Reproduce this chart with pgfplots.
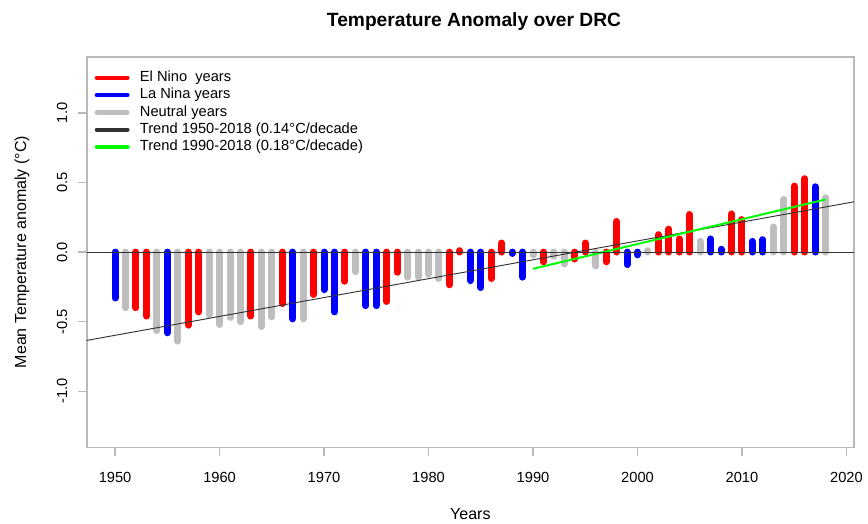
\documentclass[border=0pt]{standalone}
\usepackage{pgfplots}
\pgfplotsset{compat=1.18}
\usepackage{fontspec}
\setmainfont{Liberation Sans}
\definecolor{ngray}{RGB}{190,190,190}
\definecolor{framegray}{RGB}{185,185,185}
\definecolor{rgreen}{RGB}{0,255,0}
\begin{document}
\begin{tikzpicture}
\useasboundingbox (0pt,0pt) rectangle (651pt,393pt);
\begin{axis}[
  at={(65.0pt,57.4pt)}, anchor=south west,
  scale only axis, width=575.5pt, height=293.1pt,
  xmin=1947.28, xmax=2020.72, ymin=-1.404, ymax=1.404,
  axis line style={framegray, line width=1.3pt},
  tick style={framegray, line width=1pt},
  tick align=outside, major tick length=6.5pt,
  xtick={1950,1960,...,2020}, ytick={-1,-0.5,0,0.5,1},
  xtick pos=bottom, ytick pos=left,
  x tick label style={/pgf/number format/1000 sep={}},
  y tick label style={/pgf/number format/fixed, /pgf/number format/fixed zerofill, /pgf/number format/precision=1},
  /pgf/number format/assume math mode=true,
  tick label style={font=\fontsize{11}{13}\selectfont},
  xticklabel style={anchor=center, yshift=-16pt},
  yticklabel style={xshift=-12pt, rotate=90, anchor=center},
  label style={font=\fontsize{12}{14}\selectfont},
  xlabel={Years},
  xlabel style={at={(axis description cs:0.5,-0.170)}, anchor=center},
  ylabel={Mean Temperature anomaly (°C)},
  ylabel style={at={(axis description cs:-0.0843,0.5)}, anchor=center},
  title={Temperature Anomaly over DRC},
  title style={at={(axis description cs:0.5048,1.0683)}, anchor=center, font=\bfseries\fontsize{14.4}{16}\selectfont},
  legend cell align=left,
  legend style={at={(axis description cs:0,1)}, anchor=north west, draw=none, fill=none,
    inner sep=0pt, outer sep=0pt, xshift=6pt, yshift=-9.3pt,
    font=\fontsize{11}{13}\selectfont, row sep=0pt, column sep=6.5pt,
    nodes={text height=8pt, text depth=2.5pt, inner sep=1.25pt}},
  mylegend/.style={legend image code/.code={\draw[##1, line width=3.2pt, line cap=round] (0pt,0pt) -- (23pt,0pt);}},
  bar/.style={ycomb, line width=5.25pt, line cap=round},
]
% El Nino years
\addplot[bar, red, mylegend] coordinates {
(1952,-0.40) (1953,-0.46) (1957,-0.525) (1958,-0.43) (1963,-0.46) (1966,-0.37)
(1969,-0.305) (1972,-0.21) (1976,-0.355) (1977,-0.145) (1982,-0.235) (1983,0.01)
(1986,-0.19) (1987,0.065) (1991,-0.07) (1994,-0.05) (1995,0.065) (1997,-0.07)
(1998,0.22) (2002,0.125) (2003,0.165) (2004,0.094) (2005,0.27) (2009,0.274)
(2010,0.233) (2015,0.474) (2016,0.527)};
\addlegendentry{El Nino\ \ years}
% La Nina years
\addplot[bar, blue, mylegend] coordinates {
(1950,-0.33) (1955,-0.58) (1967,-0.48) (1970,-0.27) (1971,-0.43) (1974,-0.385)
(1975,-0.385) (1984,-0.205) (1985,-0.255) (1988,-0.01) (1989,-0.18) (1999,-0.09)
(2000,-0.02) (2007,0.094) (2008,0.02) (2011,0.077) (2012,0.089) (2017,0.469)};
\addlegendentry{La Nina years}
% Neutral years
\addplot[bar, ngray, mylegend] coordinates {
(1951,-0.40) (1954,-0.565) (1956,-0.64) (1959,-0.45) (1960,-0.52) (1961,-0.47)
(1962,-0.50) (1964,-0.535) (1965,-0.465) (1968,-0.48) (1973,-0.14) (1978,-0.18)
(1979,-0.18) (1980,-0.16) (1981,-0.19) (1990,-0.02) (1992,-0.03) (1993,-0.085)
(1996,-0.10) (2001,0.01) (2006,0.077) (2013,0.18) (2014,0.378) (2018,0.39)};
\addlegendentry{Neutral years}
% trends
\addplot[black!80, line width=0.7pt, mylegend] coordinates {(1947.28,-0.635) (2020.72,0.361)};
\addlegendentry{Trend 1950-2018 (0.14°C/decade}
\addplot[rgreen, line width=1.5pt, mylegend] coordinates {(1990,-0.12) (2018,0.378)};
\addlegendentry{Trend 1990-2018 (0.18°C/decade)}
% zero line
\addplot[black!80, line width=0.7pt, forget plot] coordinates {(1947.28,0) (2020.72,0)};
\end{axis}
\end{tikzpicture}
\end{document}
